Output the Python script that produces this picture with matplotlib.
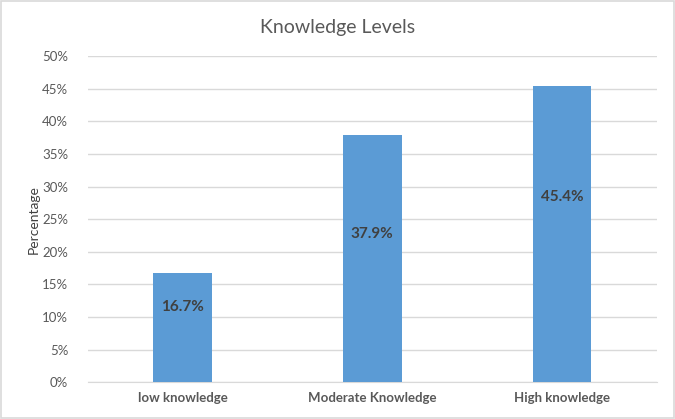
import matplotlib
matplotlib.use("Agg")
import matplotlib.pyplot as plt
from matplotlib.patches import Rectangle

categories = ["low knowledge", "Moderate Knowledge", "High knowledge"]
values = [16.7, 37.9, 45.4]
yticks = [0, 5, 10, 15, 20, 25, 30, 35, 40, 45, 50]
label_frac = [0.69, 0.60, 0.625]  # label height as fraction of bar

plt.rcParams['font.family'] = ['Lato', 'DejaVu Sans']

fig = plt.figure(figsize=(6.75, 4.19), dpi=100)
ax = fig.add_axes([0.130, 0.088, 0.843, 0.778])

x = list(range(len(categories)))
ax.bar(x, values, width=0.31, color="#5B9BD5", zorder=3)
for xi, v, f in zip(x, values, label_frac):
    ax.text(xi, v * f, f"{v:.1f}%", ha="center", va="center",
            fontsize=11, fontweight="bold", color="#404040", zorder=4)

ax.set_xlim(-0.5, len(categories) - 0.5)
ax.set_ylim(0, 50)
ax.set_yticks(yticks)
ax.set_yticklabels([f"{t}%" for t in yticks])
ax.set_xticks(x)
ax.set_xticklabels(categories, fontweight="bold")
ax.tick_params(axis="both", length=0, colors="#595959", labelsize=9.5)
ax.tick_params(axis="y", pad=14)
ax.tick_params(axis="x", pad=7)
ax.grid(axis="y", color="#D9D9D9", linewidth=1, zorder=0)
for s in ["top", "right", "left"]:
    ax.spines[s].set_visible(False)
ax.spines["bottom"].set_color("#D9D9D9")
ax.set_ylabel("Percentage", color="#404040", fontsize=10, labelpad=2)

fig.text(0.5, 0.935, "Knowledge Levels", ha="center", va="center",
         fontsize=14, color="#595959")

fig.patches.append(Rectangle((0.002, 0.003), 0.996, 0.994, transform=fig.transFigure,
                             fill=False, edgecolor="#D9D9D9", linewidth=1.2))

fig.savefig("out.png", dpi=100)
